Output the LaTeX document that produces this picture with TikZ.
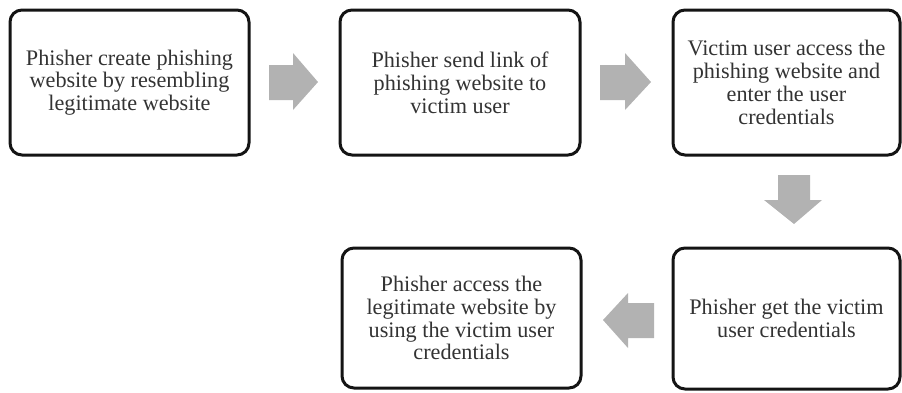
\documentclass[tikz,border=0pt]{standalone}
\usepackage{fontspec}
\setmainfont{Liberation Serif}
\begin{document}
\begin{tikzpicture}[x=1pt,y=-1pt,
  box/.style={draw=black!92, line width=3pt, rounded corners=12pt, fill=white,
    align=center, font=\fontsize{22.2}{22.8}\selectfont, text=black!80},
  blockarrow/.style={fill=black!30, draw=none}]
\useasboundingbox (0,0) rectangle (902,392);
\node[box, minimum width=239pt, minimum height=145pt] (b1) at (129.5,82.5)
  {Phisher create phishing\\website by resembling\\legitimate website};
\node[box, minimum width=240pt, minimum height=145pt] (b2) at (460,82.5)
  {Phisher send link of\\phishing website to\\victim user};
\node[box, minimum width=227pt, minimum height=145pt] (b3) at (786.5,82.5)
  {Victim user access the\\phishing website and\\enter the user\\credentials};
\node[box, minimum width=227pt, minimum height=141pt] (b4) at (786.5,318.5)
  {Phisher get the victim\\user credentials};
\node[box, minimum width=239pt, minimum height=140pt] (b5) at (461.5,318)
  {Phisher access the\\legitimate website by\\using the victim user\\credentials};
% right arrows
\fill[blockarrow] (269,65) -- (293,65) -- (293,53) -- (318,82) -- (293,110) -- (293,100) -- (269,100) -- cycle;
\fill[blockarrow] (600,65) -- (625,65) -- (625,53) -- (651,82) -- (625,110) -- (625,100) -- (600,100) -- cycle;
% down arrow
\fill[blockarrow] (778,175) -- (810,175) -- (810,200) -- (822,200) -- (794,224) -- (764,200) -- (778,200) -- cycle;
% left arrow
\fill[blockarrow] (654,303) -- (654,338) -- (628,338) -- (628,348) -- (603,320) -- (628,293) -- (628,303) -- cycle;
\end{tikzpicture}
\end{document}
